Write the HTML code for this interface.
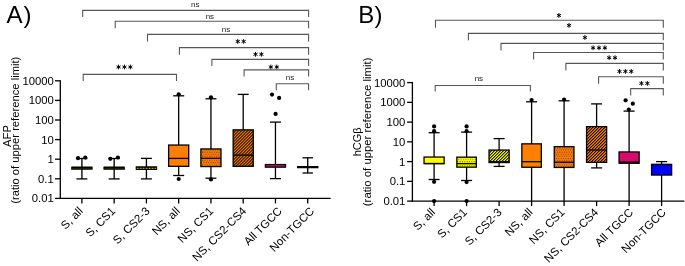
<!DOCTYPE html><html><head><meta charset="utf-8"><style>html,body{margin:0;padding:0;background:#fff;}svg{display:block;font-family:"Liberation Sans", sans-serif;will-change:transform;}</style></head><body>
<svg width="685" height="266" viewBox="0 0 685 266">
<defs>
<pattern id="dotY" x="0" y="3.2" width="2.35" height="4.2" patternUnits="userSpaceOnUse"><rect width="2.35" height="4.2" fill="#ffff00"/><circle cx="0.6" cy="0.9" r="0.55" fill="#000" fill-opacity="0.75"/><circle cx="1.775" cy="3.0" r="0.55" fill="#000" fill-opacity="0.75"/></pattern>
<pattern id="dotO" x="0" y="0" width="2.35" height="4.2" patternUnits="userSpaceOnUse"><rect width="2.35" height="4.2" fill="#ff8000"/><circle cx="0.6" cy="0.9" r="0.55" fill="#000" fill-opacity="0.75"/><circle cx="1.775" cy="3.0" r="0.55" fill="#000" fill-opacity="0.75"/></pattern>
<pattern id="hatY" width="2.12" height="3" patternUnits="userSpaceOnUse" patternTransform="rotate(45)"><rect width="2.12" height="3" fill="#ffff00"/><rect x="0" y="0" width="0.95" height="3" fill="#000"/></pattern>
<pattern id="hatO" width="2.12" height="3" patternUnits="userSpaceOnUse" patternTransform="rotate(45)"><rect width="2.12" height="3" fill="#ff8000"/><rect x="0" y="0" width="0.95" height="3" fill="#000"/></pattern>
</defs>
<text x="6.50" y="23.00" font-size="24" text-anchor="start" font-weight="normal" fill="#000" letter-spacing="1">A)</text>
<line x1="60.30" y1="80.15" x2="60.30" y2="199.05" stroke="#000" stroke-width="1.3"/>
<line x1="59.65" y1="198.40" x2="330.60" y2="198.40" stroke="#000" stroke-width="1.3"/>
<line x1="55.00" y1="80.80" x2="60.30" y2="80.80" stroke="#000" stroke-width="1.3"/>
<text x="53.80" y="84.80" font-size="11.3" text-anchor="end" font-weight="normal" fill="#000" >10000</text>
<line x1="55.00" y1="100.40" x2="60.30" y2="100.40" stroke="#000" stroke-width="1.3"/>
<text x="53.80" y="104.40" font-size="11.3" text-anchor="end" font-weight="normal" fill="#000" >1000</text>
<line x1="55.00" y1="120.00" x2="60.30" y2="120.00" stroke="#000" stroke-width="1.3"/>
<text x="53.80" y="124.00" font-size="11.3" text-anchor="end" font-weight="normal" fill="#000" >100</text>
<line x1="55.00" y1="139.60" x2="60.30" y2="139.60" stroke="#000" stroke-width="1.3"/>
<text x="53.80" y="143.60" font-size="11.3" text-anchor="end" font-weight="normal" fill="#000" >10</text>
<line x1="55.00" y1="159.20" x2="60.30" y2="159.20" stroke="#000" stroke-width="1.3"/>
<text x="53.80" y="163.20" font-size="11.3" text-anchor="end" font-weight="normal" fill="#000" >1</text>
<line x1="55.00" y1="178.80" x2="60.30" y2="178.80" stroke="#000" stroke-width="1.3"/>
<text x="53.80" y="182.80" font-size="11.3" text-anchor="end" font-weight="normal" fill="#000" >0.1</text>
<line x1="55.00" y1="198.40" x2="60.30" y2="198.40" stroke="#000" stroke-width="1.3"/>
<text x="53.80" y="202.40" font-size="11.3" text-anchor="end" font-weight="normal" fill="#000" >0.01</text>
<line x1="81.90" y1="198.40" x2="81.90" y2="203.40" stroke="#000" stroke-width="1.3"/>
<text x="83.70" y="211.80" font-size="11.5" text-anchor="end" font-weight="normal" fill="#000" transform="rotate(-45 83.70 211.80)">S, all</text>
<line x1="114.16" y1="198.40" x2="114.16" y2="203.40" stroke="#000" stroke-width="1.3"/>
<text x="116.06" y="211.80" font-size="11.5" text-anchor="end" font-weight="normal" fill="#000" transform="rotate(-45 116.06 211.80)">S, CS1</text>
<line x1="146.42" y1="198.40" x2="146.42" y2="203.40" stroke="#000" stroke-width="1.3"/>
<text x="150.62" y="211.80" font-size="11.5" text-anchor="end" font-weight="normal" fill="#000" transform="rotate(-45 150.62 211.80)">S, CS2-3</text>
<line x1="178.68" y1="198.40" x2="178.68" y2="203.40" stroke="#000" stroke-width="1.3"/>
<text x="180.68" y="211.80" font-size="11.5" text-anchor="end" font-weight="normal" fill="#000" transform="rotate(-45 180.68 211.80)">NS, all</text>
<line x1="210.94" y1="198.40" x2="210.94" y2="203.40" stroke="#000" stroke-width="1.3"/>
<text x="213.94" y="211.80" font-size="11.5" text-anchor="end" font-weight="normal" fill="#000" transform="rotate(-45 213.94 211.80)">NS, CS1</text>
<line x1="243.20" y1="198.40" x2="243.20" y2="203.40" stroke="#000" stroke-width="1.3"/>
<text x="247.10" y="211.80" font-size="11.5" text-anchor="end" font-weight="normal" fill="#000" transform="rotate(-45 247.10 211.80)">NS, CS2-CS4</text>
<line x1="275.46" y1="198.40" x2="275.46" y2="203.40" stroke="#000" stroke-width="1.3"/>
<text x="282.66" y="211.80" font-size="11.5" text-anchor="end" font-weight="normal" fill="#000" transform="rotate(-45 282.66 211.80)">All TGCC</text>
<line x1="307.72" y1="198.40" x2="307.72" y2="203.40" stroke="#000" stroke-width="1.3"/>
<text x="314.92" y="211.80" font-size="11.5" text-anchor="end" font-weight="normal" fill="#000" transform="rotate(-45 314.92 211.80)">Non-TGCC</text>
<text x="11.30" y="136.00" font-size="11.2" text-anchor="middle" font-weight="normal" fill="#000" transform="rotate(-90 11.3 136.0)">AFP</text>
<text x="19.40" y="130.25" font-size="11.22" text-anchor="middle" font-weight="normal" fill="#000" transform="rotate(-90 19.4 130.25)">(ratio of upper reference limit)</text>
<line x1="76.40" y1="158.50" x2="87.40" y2="158.50" stroke="#000" stroke-width="1.3"/>
<line x1="76.40" y1="178.90" x2="87.40" y2="178.90" stroke="#000" stroke-width="1.3"/>
<line x1="81.90" y1="158.50" x2="81.90" y2="178.90" stroke="#000" stroke-width="1.35"/>
<rect x="71.15" y="166.60" width="21.50" height="3.20" rx="0.4" fill="#000"/>
<line x1="72.35" y1="168.70" x2="91.65" y2="168.70" stroke="#3c3c00" stroke-width="0.6"/>
<circle cx="78.00" cy="158.20" r="2.1" fill="#000"/>
<circle cx="85.30" cy="157.60" r="2.1" fill="#000"/>
<line x1="108.66" y1="158.50" x2="119.66" y2="158.50" stroke="#000" stroke-width="1.3"/>
<line x1="108.66" y1="178.90" x2="119.66" y2="178.90" stroke="#000" stroke-width="1.3"/>
<line x1="114.16" y1="158.50" x2="114.16" y2="178.90" stroke="#000" stroke-width="1.35"/>
<rect x="103.41" y="166.60" width="21.50" height="3.20" rx="0.4" fill="#000"/>
<line x1="104.61" y1="168.70" x2="123.91" y2="168.70" stroke="#3c3c00" stroke-width="0.6"/>
<circle cx="110.30" cy="158.80" r="2.1" fill="#000"/>
<circle cx="117.90" cy="157.50" r="2.1" fill="#000"/>
<line x1="140.92" y1="158.40" x2="151.92" y2="158.40" stroke="#000" stroke-width="1.3"/>
<line x1="140.92" y1="178.90" x2="151.92" y2="178.90" stroke="#000" stroke-width="1.3"/>
<line x1="146.42" y1="158.40" x2="146.42" y2="178.90" stroke="#000" stroke-width="1.35"/>
<rect x="135.67" y="166.20" width="21.50" height="3.70" rx="0.4" fill="#000"/>
<line x1="136.87" y1="168.30" x2="156.17" y2="168.30" stroke="#d8d800" stroke-width="1.0" stroke-dasharray="1.8 1.15"/>
<line x1="178.68" y1="95.80" x2="178.68" y2="145.05" stroke="#000" stroke-width="1.3"/>
<line x1="173.18" y1="95.80" x2="184.18" y2="95.80" stroke="#000" stroke-width="1.3"/>
<line x1="178.68" y1="166.35" x2="178.68" y2="175.50" stroke="#000" stroke-width="1.3"/>
<line x1="173.18" y1="175.50" x2="184.18" y2="175.50" stroke="#000" stroke-width="1.3"/>
<rect x="168.63" y="145.05" width="20.10" height="21.30" fill="#ff8000" stroke="#000" stroke-width="1.3"/>
<line x1="168.63" y1="158.40" x2="188.73" y2="158.40" stroke="#000" stroke-width="1.3"/>
<circle cx="178.68" cy="94.30" r="2.1" fill="#000"/>
<circle cx="178.68" cy="179.00" r="2.1" fill="#000"/>
<line x1="210.94" y1="98.80" x2="210.94" y2="148.95" stroke="#000" stroke-width="1.3"/>
<line x1="205.44" y1="98.80" x2="216.44" y2="98.80" stroke="#000" stroke-width="1.3"/>
<line x1="210.94" y1="166.55" x2="210.94" y2="178.20" stroke="#000" stroke-width="1.3"/>
<line x1="205.44" y1="178.20" x2="216.44" y2="178.20" stroke="#000" stroke-width="1.3"/>
<rect x="200.89" y="148.95" width="20.10" height="17.60" fill="url(#dotO)" stroke="#000" stroke-width="1.3"/>
<line x1="200.89" y1="158.30" x2="220.99" y2="158.30" stroke="#000" stroke-width="1.3"/>
<circle cx="210.94" cy="97.30" r="2.1" fill="#000"/>
<circle cx="210.94" cy="179.40" r="2.1" fill="#000"/>
<line x1="243.20" y1="94.40" x2="243.20" y2="129.85" stroke="#000" stroke-width="1.3"/>
<line x1="237.70" y1="94.40" x2="248.70" y2="94.40" stroke="#000" stroke-width="1.3"/>
<rect x="233.15" y="129.85" width="20.10" height="36.50" fill="url(#hatO)" stroke="#000" stroke-width="1.3"/>
<line x1="233.15" y1="155.10" x2="253.25" y2="155.10" stroke="#000" stroke-width="1.3"/>
<line x1="275.46" y1="122.10" x2="275.46" y2="164.55" stroke="#000" stroke-width="1.3"/>
<line x1="269.96" y1="122.10" x2="280.96" y2="122.10" stroke="#000" stroke-width="1.3"/>
<line x1="275.46" y1="167.15" x2="275.46" y2="178.60" stroke="#000" stroke-width="1.3"/>
<line x1="269.96" y1="178.60" x2="280.96" y2="178.60" stroke="#000" stroke-width="1.3"/>
<rect x="265.41" y="164.55" width="20.10" height="2.60" fill="#d80a6e" stroke="#000" stroke-width="1.3"/>
<circle cx="272.00" cy="94.60" r="2.1" fill="#000"/>
<circle cx="279.10" cy="97.90" r="2.1" fill="#000"/>
<circle cx="275.60" cy="113.90" r="2.1" fill="#000"/>
<line x1="302.47" y1="157.80" x2="312.97" y2="157.80" stroke="#000" stroke-width="1.3"/>
<line x1="302.47" y1="173.00" x2="312.97" y2="173.00" stroke="#000" stroke-width="1.3"/>
<line x1="307.72" y1="157.80" x2="307.72" y2="173.00" stroke="#000" stroke-width="1.35"/>
<rect x="296.97" y="166.00" width="21.50" height="2.30" rx="0.4" fill="#000"/>
<path d="M82.70,16.90 V10.40 H308.60 V16.90" fill="none" stroke="#575757" stroke-width="1.1"/>
<text x="195.20" y="7.40" font-size="8" text-anchor="middle" font-weight="normal" fill="#222" >ns</text>
<path d="M115.20,28.30 V21.30 H308.60 V28.30" fill="none" stroke="#575757" stroke-width="1.1"/>
<text x="209.90" y="18.50" font-size="8" text-anchor="middle" font-weight="normal" fill="#222" >ns</text>
<path d="M147.50,41.60 V34.40 H308.60 V41.60" fill="none" stroke="#575757" stroke-width="1.1"/>
<text x="226.00" y="32.00" font-size="8" text-anchor="middle" font-weight="normal" fill="#222" >ns</text>
<path d="M179.40,54.70 V47.60 H308.60 V54.70" fill="none" stroke="#575757" stroke-width="1.1"/>
<path d="M237.75,43.85L237.75,39.05M235.67,42.65L239.83,40.25M235.67,40.25L239.83,42.65" stroke="#000" stroke-width="0.95" fill="none"/>
<circle cx="237.75" cy="41.45" r="0.85" fill="#000"/>
<path d="M243.65,43.85L243.65,39.05M241.57,42.65L245.73,40.25M241.57,40.25L245.73,42.65" stroke="#000" stroke-width="0.95" fill="none"/>
<circle cx="243.65" cy="41.45" r="0.85" fill="#000"/>
<path d="M211.90,65.90 V59.40 H308.60 V65.90" fill="none" stroke="#575757" stroke-width="1.1"/>
<path d="M255.50,56.70L255.50,51.90M253.42,55.50L257.58,53.10M253.42,53.10L257.58,55.50" stroke="#000" stroke-width="0.95" fill="none"/>
<circle cx="255.50" cy="54.30" r="0.85" fill="#000"/>
<path d="M261.40,56.70L261.40,51.90M259.32,55.50L263.48,53.10M259.32,53.10L263.48,55.50" stroke="#000" stroke-width="0.95" fill="none"/>
<circle cx="261.40" cy="54.30" r="0.85" fill="#000"/>
<path d="M244.10,76.50 V69.90 H308.60 V76.50" fill="none" stroke="#575757" stroke-width="1.1"/>
<path d="M270.85,69.40L270.85,64.60M268.77,68.20L272.93,65.80M268.77,65.80L272.93,68.20" stroke="#000" stroke-width="0.95" fill="none"/>
<circle cx="270.85" cy="67.00" r="0.85" fill="#000"/>
<path d="M276.75,69.40L276.75,64.60M274.67,68.20L278.83,65.80M274.67,65.80L278.83,68.20" stroke="#000" stroke-width="0.95" fill="none"/>
<circle cx="276.75" cy="67.00" r="0.85" fill="#000"/>
<path d="M276.30,90.30 V83.70 H308.60 V90.30" fill="none" stroke="#575757" stroke-width="1.1"/>
<text x="290.00" y="80.20" font-size="8" text-anchor="middle" font-weight="normal" fill="#222" >ns</text>
<path d="M83.20,81.10 V74.40 H176.50 V81.10" fill="none" stroke="#575757" stroke-width="1.1"/>
<path d="M118.55,69.40L118.55,64.60M116.47,68.20L120.63,65.80M116.47,65.80L120.63,68.20" stroke="#000" stroke-width="0.95" fill="none"/>
<circle cx="118.55" cy="67.00" r="0.85" fill="#000"/>
<path d="M124.45,69.40L124.45,64.60M122.37,68.20L126.53,65.80M122.37,65.80L126.53,68.20" stroke="#000" stroke-width="0.95" fill="none"/>
<circle cx="124.45" cy="67.00" r="0.85" fill="#000"/>
<path d="M130.35,69.40L130.35,64.60M128.27,68.20L132.43,65.80M128.27,65.80L132.43,68.20" stroke="#000" stroke-width="0.95" fill="none"/>
<circle cx="130.35" cy="67.00" r="0.85" fill="#000"/>
<text x="358.30" y="23.00" font-size="24" text-anchor="start" font-weight="normal" fill="#000" letter-spacing="0.3">B)</text>
<line x1="412.40" y1="81.95" x2="412.40" y2="201.75" stroke="#000" stroke-width="1.3"/>
<line x1="411.75" y1="201.10" x2="684.40" y2="201.10" stroke="#000" stroke-width="1.3"/>
<line x1="407.10" y1="82.60" x2="412.40" y2="82.60" stroke="#000" stroke-width="1.3"/>
<text x="405.40" y="86.60" font-size="11.3" text-anchor="end" font-weight="normal" fill="#000" >10000</text>
<line x1="407.10" y1="102.35" x2="412.40" y2="102.35" stroke="#000" stroke-width="1.3"/>
<text x="405.40" y="106.35" font-size="11.3" text-anchor="end" font-weight="normal" fill="#000" >1000</text>
<line x1="407.10" y1="122.10" x2="412.40" y2="122.10" stroke="#000" stroke-width="1.3"/>
<text x="405.40" y="126.10" font-size="11.3" text-anchor="end" font-weight="normal" fill="#000" >100</text>
<line x1="407.10" y1="141.85" x2="412.40" y2="141.85" stroke="#000" stroke-width="1.3"/>
<text x="405.40" y="145.85" font-size="11.3" text-anchor="end" font-weight="normal" fill="#000" >10</text>
<line x1="407.10" y1="161.60" x2="412.40" y2="161.60" stroke="#000" stroke-width="1.3"/>
<text x="405.40" y="165.60" font-size="11.3" text-anchor="end" font-weight="normal" fill="#000" >1</text>
<line x1="407.10" y1="181.35" x2="412.40" y2="181.35" stroke="#000" stroke-width="1.3"/>
<text x="405.40" y="185.35" font-size="11.3" text-anchor="end" font-weight="normal" fill="#000" >0.1</text>
<line x1="407.10" y1="201.10" x2="412.40" y2="201.10" stroke="#000" stroke-width="1.3"/>
<text x="405.40" y="205.10" font-size="11.3" text-anchor="end" font-weight="normal" fill="#000" >0.01</text>
<line x1="434.10" y1="201.10" x2="434.10" y2="206.10" stroke="#000" stroke-width="1.3"/>
<text x="435.80" y="213.00" font-size="11.5" text-anchor="end" font-weight="normal" fill="#000" transform="rotate(-45 435.80 213.00)">S, all</text>
<line x1="466.60" y1="201.10" x2="466.60" y2="206.10" stroke="#000" stroke-width="1.3"/>
<text x="467.80" y="213.00" font-size="11.5" text-anchor="end" font-weight="normal" fill="#000" transform="rotate(-45 467.80 213.00)">S, CS1</text>
<line x1="499.10" y1="201.10" x2="499.10" y2="206.10" stroke="#000" stroke-width="1.3"/>
<text x="502.60" y="213.00" font-size="11.5" text-anchor="end" font-weight="normal" fill="#000" transform="rotate(-45 502.60 213.00)">S, CS2-3</text>
<line x1="531.60" y1="201.10" x2="531.60" y2="206.10" stroke="#000" stroke-width="1.3"/>
<text x="533.40" y="213.00" font-size="11.5" text-anchor="end" font-weight="normal" fill="#000" transform="rotate(-45 533.40 213.00)">NS, all</text>
<line x1="564.10" y1="201.10" x2="564.10" y2="206.10" stroke="#000" stroke-width="1.3"/>
<text x="565.30" y="213.00" font-size="11.5" text-anchor="end" font-weight="normal" fill="#000" transform="rotate(-45 565.30 213.00)">NS, CS1</text>
<line x1="596.60" y1="201.10" x2="596.60" y2="206.10" stroke="#000" stroke-width="1.3"/>
<text x="599.00" y="213.00" font-size="11.5" text-anchor="end" font-weight="normal" fill="#000" transform="rotate(-45 599.00 213.00)">NS, CS2-CS4</text>
<line x1="629.10" y1="201.10" x2="629.10" y2="206.10" stroke="#000" stroke-width="1.3"/>
<text x="633.80" y="213.00" font-size="11.5" text-anchor="end" font-weight="normal" fill="#000" transform="rotate(-45 633.80 213.00)">All TGCC</text>
<line x1="661.60" y1="201.10" x2="661.60" y2="206.10" stroke="#000" stroke-width="1.3"/>
<text x="666.70" y="213.00" font-size="11.5" text-anchor="end" font-weight="normal" fill="#000" transform="rotate(-45 666.70 213.00)">Non-TGCC</text>
<text x="360.90" y="141.80" font-size="11" text-anchor="middle" font-weight="normal" fill="#000" transform="rotate(-90 360.9 141.8)">hCG&#946;</text>
<text x="371.45" y="131.85" font-size="11.34" text-anchor="middle" font-weight="normal" fill="#000" transform="rotate(-90 371.45 131.85)">(ratio of upper reference limit)</text>
<line x1="434.10" y1="132.70" x2="434.10" y2="157.05" stroke="#000" stroke-width="1.3"/>
<line x1="428.60" y1="132.70" x2="439.60" y2="132.70" stroke="#000" stroke-width="1.3"/>
<line x1="434.10" y1="163.65" x2="434.10" y2="179.50" stroke="#000" stroke-width="1.3"/>
<line x1="428.60" y1="179.50" x2="439.60" y2="179.50" stroke="#000" stroke-width="1.3"/>
<rect x="424.05" y="157.05" width="20.10" height="6.60" fill="#ffff00" stroke="#000" stroke-width="1.3"/>
<line x1="424.05" y1="163.50" x2="444.15" y2="163.50" stroke="#000" stroke-width="1.3"/>
<circle cx="434.10" cy="126.40" r="2.1" fill="#000"/>
<circle cx="434.10" cy="131.20" r="2.1" fill="#000"/>
<circle cx="434.10" cy="181.80" r="2.1" fill="#000"/>
<circle cx="434.10" cy="201.10" r="2.1" fill="#000"/>
<line x1="466.60" y1="132.10" x2="466.60" y2="157.15" stroke="#000" stroke-width="1.3"/>
<line x1="461.10" y1="132.10" x2="472.10" y2="132.10" stroke="#000" stroke-width="1.3"/>
<line x1="466.60" y1="167.15" x2="466.60" y2="180.50" stroke="#000" stroke-width="1.3"/>
<line x1="461.10" y1="180.50" x2="472.10" y2="180.50" stroke="#000" stroke-width="1.3"/>
<rect x="456.85" y="157.15" width="19.50" height="10.00" fill="url(#dotY)" stroke="#000" stroke-width="1.3"/>
<line x1="456.85" y1="163.60" x2="476.35" y2="163.60" stroke="#000" stroke-width="1.3"/>
<circle cx="466.60" cy="126.40" r="2.1" fill="#000"/>
<circle cx="466.60" cy="131.20" r="2.1" fill="#000"/>
<circle cx="466.60" cy="182.10" r="2.1" fill="#000"/>
<circle cx="466.60" cy="201.10" r="2.1" fill="#000"/>
<line x1="499.10" y1="138.60" x2="499.10" y2="150.05" stroke="#000" stroke-width="1.3"/>
<line x1="493.60" y1="138.60" x2="504.60" y2="138.60" stroke="#000" stroke-width="1.3"/>
<line x1="499.10" y1="162.55" x2="499.10" y2="166.40" stroke="#000" stroke-width="1.3"/>
<line x1="493.60" y1="166.40" x2="504.60" y2="166.40" stroke="#000" stroke-width="1.3"/>
<rect x="489.05" y="150.05" width="20.10" height="12.50" fill="url(#hatY)" stroke="#000" stroke-width="1.3"/>
<line x1="489.05" y1="161.70" x2="509.15" y2="161.70" stroke="#000" stroke-width="1.3"/>
<line x1="531.60" y1="101.80" x2="531.60" y2="143.85" stroke="#000" stroke-width="1.3"/>
<line x1="526.10" y1="101.80" x2="537.10" y2="101.80" stroke="#000" stroke-width="1.3"/>
<line x1="531.60" y1="167.25" x2="531.60" y2="201.10" stroke="#000" stroke-width="1.3"/>
<rect x="521.85" y="143.85" width="19.50" height="23.40" fill="#ff8000" stroke="#000" stroke-width="1.3"/>
<line x1="521.85" y1="161.70" x2="541.35" y2="161.70" stroke="#000" stroke-width="1.3"/>
<circle cx="531.60" cy="100.10" r="2.1" fill="#000"/>
<line x1="564.10" y1="100.80" x2="564.10" y2="146.65" stroke="#000" stroke-width="1.3"/>
<line x1="558.60" y1="100.80" x2="569.60" y2="100.80" stroke="#000" stroke-width="1.3"/>
<line x1="564.10" y1="167.45" x2="564.10" y2="201.10" stroke="#000" stroke-width="1.3"/>
<rect x="554.25" y="146.65" width="19.70" height="20.80" fill="url(#dotO)" stroke="#000" stroke-width="1.3"/>
<line x1="554.25" y1="162.20" x2="573.95" y2="162.20" stroke="#000" stroke-width="1.3"/>
<circle cx="564.10" cy="99.50" r="2.1" fill="#000"/>
<line x1="596.60" y1="103.90" x2="596.60" y2="126.65" stroke="#000" stroke-width="1.3"/>
<line x1="591.10" y1="103.90" x2="602.10" y2="103.90" stroke="#000" stroke-width="1.3"/>
<line x1="596.60" y1="162.35" x2="596.60" y2="167.90" stroke="#000" stroke-width="1.3"/>
<line x1="591.10" y1="167.90" x2="602.10" y2="167.90" stroke="#000" stroke-width="1.3"/>
<rect x="586.55" y="126.65" width="20.10" height="35.70" fill="url(#hatO)" stroke="#000" stroke-width="1.3"/>
<line x1="586.55" y1="150.00" x2="606.65" y2="150.00" stroke="#000" stroke-width="1.3"/>
<line x1="629.10" y1="111.10" x2="629.10" y2="151.95" stroke="#000" stroke-width="1.3"/>
<line x1="623.60" y1="111.10" x2="634.60" y2="111.10" stroke="#000" stroke-width="1.3"/>
<line x1="629.10" y1="163.25" x2="629.10" y2="201.10" stroke="#000" stroke-width="1.3"/>
<rect x="619.05" y="151.95" width="20.10" height="11.30" fill="#d80a6e" stroke="#000" stroke-width="1.3"/>
<line x1="619.05" y1="162.10" x2="639.15" y2="162.10" stroke="#000" stroke-width="1.3"/>
<circle cx="625.60" cy="100.30" r="2.1" fill="#000"/>
<circle cx="632.80" cy="103.70" r="2.1" fill="#000"/>
<circle cx="628.80" cy="109.50" r="2.1" fill="#000"/>
<line x1="661.60" y1="161.60" x2="661.60" y2="164.45" stroke="#000" stroke-width="1.3"/>
<line x1="656.10" y1="161.60" x2="667.10" y2="161.60" stroke="#000" stroke-width="1.3"/>
<line x1="661.60" y1="175.05" x2="661.60" y2="201.10" stroke="#000" stroke-width="1.3"/>
<rect x="651.55" y="164.45" width="20.10" height="10.60" fill="#0000ff" stroke="#000" stroke-width="1.3"/>
<line x1="651.55" y1="164.50" x2="671.65" y2="164.50" stroke="#000" stroke-width="1.3"/>
<path d="M435.50,27.70 V20.30 H663.30 V27.70" fill="none" stroke="#575757" stroke-width="1.1"/>
<path d="M558.90,17.80L558.90,13.00M556.82,16.60L560.98,14.20M556.82,14.20L560.98,16.60" stroke="#000" stroke-width="0.95" fill="none"/>
<circle cx="558.90" cy="15.40" r="0.85" fill="#000"/>
<path d="M468.40,40.30 V33.40 H663.30 V40.30" fill="none" stroke="#575757" stroke-width="1.1"/>
<path d="M569.00,27.80L569.00,23.00M566.92,26.60L571.08,24.20M566.92,24.20L571.08,26.60" stroke="#000" stroke-width="0.95" fill="none"/>
<circle cx="569.00" cy="25.40" r="0.85" fill="#000"/>
<path d="M501.00,50.50 V43.40 H663.30 V50.50" fill="none" stroke="#575757" stroke-width="1.1"/>
<path d="M584.90,39.90L584.90,35.10M582.82,38.70L586.98,36.30M582.82,36.30L586.98,38.70" stroke="#000" stroke-width="0.95" fill="none"/>
<circle cx="584.90" cy="37.50" r="0.85" fill="#000"/>
<path d="M533.60,59.50 V52.50 H663.30 V59.50" fill="none" stroke="#575757" stroke-width="1.1"/>
<path d="M593.10,50.20L593.10,45.40M591.02,49.00L595.18,46.60M591.02,46.60L595.18,49.00" stroke="#000" stroke-width="0.95" fill="none"/>
<circle cx="593.10" cy="47.80" r="0.85" fill="#000"/>
<path d="M599.00,50.20L599.00,45.40M596.92,49.00L601.08,46.60M596.92,46.60L601.08,49.00" stroke="#000" stroke-width="0.95" fill="none"/>
<circle cx="599.00" cy="47.80" r="0.85" fill="#000"/>
<path d="M604.90,50.20L604.90,45.40M602.82,49.00L606.98,46.60M602.82,46.60L606.98,49.00" stroke="#000" stroke-width="0.95" fill="none"/>
<circle cx="604.90" cy="47.80" r="0.85" fill="#000"/>
<path d="M565.90,70.50 V63.40 H663.30 V70.50" fill="none" stroke="#575757" stroke-width="1.1"/>
<path d="M609.15,60.10L609.15,55.30M607.07,58.90L611.23,56.50M607.07,56.50L611.23,58.90" stroke="#000" stroke-width="0.95" fill="none"/>
<circle cx="609.15" cy="57.70" r="0.85" fill="#000"/>
<path d="M615.05,60.10L615.05,55.30M612.97,58.90L617.13,56.50M612.97,56.50L617.13,58.90" stroke="#000" stroke-width="0.95" fill="none"/>
<circle cx="615.05" cy="57.70" r="0.85" fill="#000"/>
<path d="M598.60,83.80 V76.80 H663.30 V83.80" fill="none" stroke="#575757" stroke-width="1.1"/>
<path d="M619.50,73.80L619.50,69.00M617.42,72.60L621.58,70.20M617.42,70.20L621.58,72.60" stroke="#000" stroke-width="0.95" fill="none"/>
<circle cx="619.50" cy="71.40" r="0.85" fill="#000"/>
<path d="M625.40,73.80L625.40,69.00M623.32,72.60L627.48,70.20M623.32,70.20L627.48,72.60" stroke="#000" stroke-width="0.95" fill="none"/>
<circle cx="625.40" cy="71.40" r="0.85" fill="#000"/>
<path d="M631.30,73.80L631.30,69.00M629.22,72.60L633.38,70.20M629.22,70.20L633.38,72.60" stroke="#000" stroke-width="0.95" fill="none"/>
<circle cx="631.30" cy="71.40" r="0.85" fill="#000"/>
<path d="M630.70,95.40 V88.60 H663.30 V95.40" fill="none" stroke="#575757" stroke-width="1.1"/>
<path d="M641.45,85.80L641.45,81.00M639.37,84.60L643.53,82.20M639.37,82.20L643.53,84.60" stroke="#000" stroke-width="0.95" fill="none"/>
<circle cx="641.45" cy="83.40" r="0.85" fill="#000"/>
<path d="M647.35,85.80L647.35,81.00M645.27,84.60L649.43,82.20M645.27,82.20L649.43,84.60" stroke="#000" stroke-width="0.95" fill="none"/>
<circle cx="647.35" cy="83.40" r="0.85" fill="#000"/>
<path d="M435.20,91.40 V85.50 H530.40 V91.40" fill="none" stroke="#575757" stroke-width="1.1"/>
<text x="478.90" y="81.30" font-size="8" text-anchor="middle" font-weight="normal" fill="#222" >ns</text>
</svg></body></html>
